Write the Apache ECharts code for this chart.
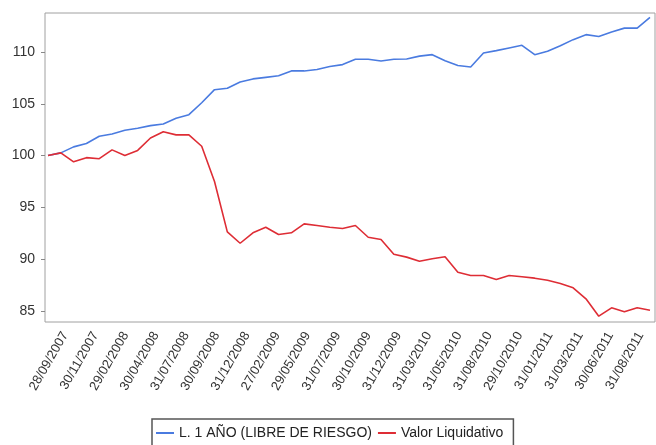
<!DOCTYPE html>
<html>
<head>
<meta charset="utf-8">
<script src="https://cdn.jsdelivr.net/npm/echarts@6/dist/echarts.min.js"></script>
<style>html,body{margin:0;padding:0;background:#fff}#c{width:656px;height:445px}</style>
</head>
<body>
<div id="c"></div>
<script>
const dates = ["28/09/2007","31/10/2007","30/11/2007","31/12/2007","31/01/2008","29/02/2008","31/03/2008","30/04/2008","30/05/2008","30/06/2008","31/07/2008","29/08/2008","30/09/2008","31/10/2008","28/11/2008","31/12/2008","30/01/2009","27/02/2009","31/03/2009","30/04/2009","29/05/2009","30/06/2009","31/07/2009","31/08/2009","30/09/2009","30/10/2009","30/11/2009","31/12/2009","29/01/2010","26/02/2010","31/03/2010","30/04/2010","31/05/2010","30/06/2010","30/07/2010","31/08/2010","30/09/2010","29/10/2010","30/11/2010","31/12/2010","31/01/2011","28/02/2011","31/03/2011","29/04/2011","31/05/2011","30/06/2011","29/07/2011","31/08/2011"];
const letra1Anio = [100.0,100.26,100.84,101.16,101.86,102.09,102.44,102.63,102.89,103.05,103.6,103.95,105.1,106.36,106.5,107.1,107.4,107.55,107.7,108.17,108.17,108.3,108.6,108.78,109.3,109.3,109.13,109.3,109.32,109.6,109.74,109.16,108.7,108.55,109.9,110.13,110.39,110.64,109.74,110.06,110.6,111.19,111.67,111.5,111.93,112.3,112.3,113.34];
const valorLiquidativo = [100.0,100.26,99.4,99.8,99.7,100.55,100.0,100.5,101.7,102.3,102.0,102.0,100.9,97.5,92.64,91.54,92.55,93.09,92.38,92.55,93.41,93.25,93.09,92.96,93.25,92.12,91.9,90.48,90.2,89.8,90.04,90.23,88.75,88.43,88.43,88.04,88.43,88.3,88.17,87.97,87.66,87.24,86.18,84.5,85.31,84.93,85.31,85.08];
const xTickLabels = ["28/09/2007","30/11/2007","29/02/2008","30/04/2008","31/07/2008","30/09/2008","31/12/2008","27/02/2009","29/05/2009","31/07/2009","30/10/2009","31/12/2009","31/03/2010","31/05/2010","31/08/2010","29/10/2010","31/01/2011","31/03/2011","30/06/2011","31/08/2011"];
const yTicks = [85, 90, 95, 100, 105, 110];
const yMin = 83.94, yMax = 113.76;

const chart = echarts.init(document.getElementById('c'), null, {renderer: 'canvas'});
const font = 'Liberation Sans, Arial, sans-serif';
chart.setOption({
  animation: false,
  backgroundColor: '#fff',
  textStyle: {fontFamily: font},
  grid: [
    {left: 45, right: 1, top: 13, bottom: 123, show: true, borderColor: '#a0a0a0', borderWidth: 1, backgroundColor: 'transparent'},
    {left: 48, right: 6, top: 13, bottom: 123},
    {left: 50, width: 610, top: 13, bottom: 123}
  ],
  xAxis: [
    {type: 'category', gridIndex: 2, data: xTickLabels, boundaryGap: true,
     axisLine: {show: false}, axisTick: {show: false}, splitLine: {show: false},
     axisLabel: {interval: 0, rotate: 60, margin: 11, color: '#333', fontSize: 13, fontFamily: font}},
    {type: 'category', gridIndex: 1, data: dates, boundaryGap: false, show: false},
    {type: 'category', gridIndex: 0, data: dates, boundaryGap: false, show: false}
  ],
  yAxis: [
    {type: 'value', gridIndex: 0, min: yMin, max: yMax,
     axisLine: {show: false}, splitLine: {show: false},
     axisTick: {show: true, length: 4, lineStyle: {color: '#888'}, customValues: yTicks},
     axisLabel: {color: '#333', fontSize: 14, margin: 10, fontFamily: font, customValues: yTicks}},
    {type: 'value', gridIndex: 1, min: yMin, max: yMax, show: false},
    {type: 'value', gridIndex: 2, min: yMin, max: yMax, show: false}
  ],
  legend: {
    left: 152, top: 419, orient: 'horizontal',
    borderColor: '#555', borderWidth: 1.5, padding: [7, 10, 7, 4],
    itemGap: 6, itemWidth: 18, itemHeight: 2, icon: 'rect',
    textStyle: {color: '#222', fontSize: 14, fontFamily: font},
    data: ['L. 1 AÑO (LIBRE DE RIESGO)', 'Valor Liquidativo']
  },
  series: [
    {name: 'L. 1 AÑO (LIBRE DE RIESGO)', type: 'line', xAxisIndex: 1, yAxisIndex: 1,
     data: letra1Anio, symbol: 'none', lineStyle: {color: '#4a7be0', width: 1.6}, itemStyle: {color: '#4a7be0'}},
    {name: 'Valor Liquidativo', type: 'line', xAxisIndex: 1, yAxisIndex: 1,
     data: valorLiquidativo, symbol: 'none', lineStyle: {color: '#de2d35', width: 1.6}, itemStyle: {color: '#de2d35'}}
  ]
});
</script>
</body>
</html>
